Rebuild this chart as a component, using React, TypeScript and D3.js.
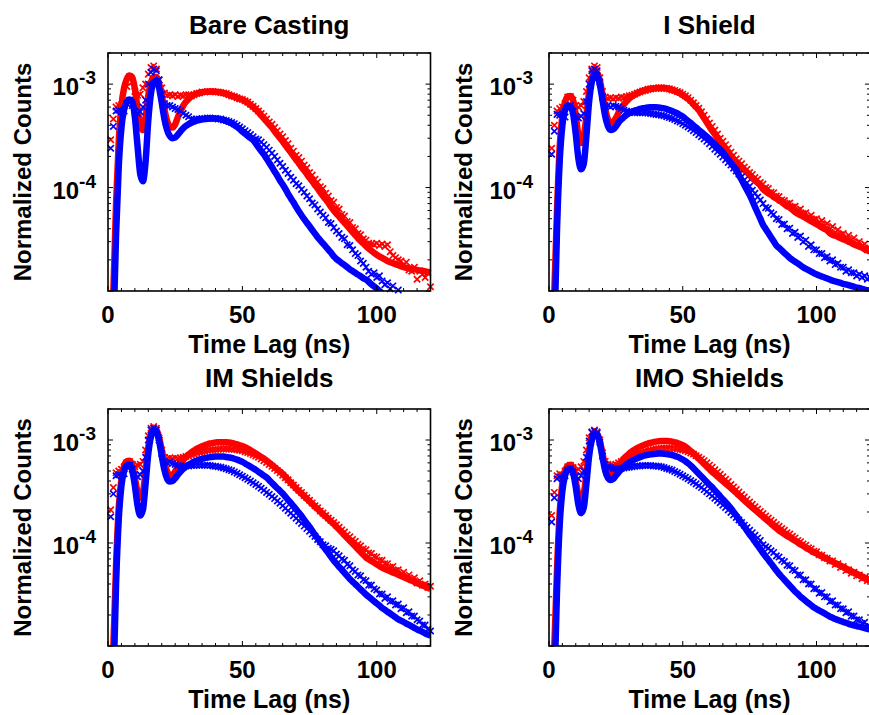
import React from "react";
import * as d3 from "d3";

// Normalized counts are stored in units of 1e-5
const UNIT = 1e-5;

const timeLine = d3.range(0, 121); // ns, simulated curves
const timeMarks = d3.range(1, 121); // ns, measured bins

const titles = ["Bare Casting", "I Shield", "IM Shields", "IMO Shields"];
const xTickLabels = [0, 50, 100];
const yTickLabels = [
  { v: 1e-3, exp: "-3" },
  { v: 1e-4, exp: "-4" },
];

// ---------------- Bare Casting ----------------
const bcRedLine = [
  0.1, 0.3, 1.0, 7, 28, 62, 92, 112, 121, 117,
  90, 58, 40, 36, 48, 78, 104, 117, 117, 102,
  78, 57, 44, 39, 38, 41, 48, 55, 62, 67.5,
  72, 76, 79, 81, 82.5, 83.5, 84.2, 84.6, 84.8, 84.8,
  84.5, 84, 83.2, 82, 80.6, 79, 77.2, 75.5, 74, 72.5,
  70.8, 68.4, 66, 63, 60, 57, 53.7, 50, 46.8, 43.6,
  40.7, 38, 35, 32.4, 30.2, 27.9, 25.7, 23.7, 21.9, 20.2,
  18.6, 17.2, 15.8, 14.6, 13.5, 12.4, 11.5, 10.6, 9.8, 9.0,
  8.3, 7.7, 7.1, 6.5, 6.0, 5.6, 5.25, 4.9, 4.57, 4.27,
  3.98, 3.7, 3.47, 3.24, 3.05, 2.88, 2.72, 2.57, 2.45, 2.34,
  2.24, 2.16, 2.09, 2.02, 1.95, 1.9, 1.86, 1.82, 1.78, 1.74,
  1.7, 1.68, 1.66, 1.64, 1.62, 1.6, 1.58, 1.57, 1.55, 1.53,
  1.51,
];
const bcBlueLine = [
  0.05, 0.1, 0.4, 3.5, 16, 38, 57, 67, 71, 68,
  48, 25, 13.5, 11.5, 18, 45, 82, 104, 108, 92,
  66, 46, 36, 31.5, 30, 30.5, 32.5, 35, 37.5, 39.5,
  41, 42.3, 43.4, 44.3, 45, 45.6, 46, 46.3, 46.5, 46.6,
  46.5, 46.2, 45.7, 45, 44, 43, 41.8, 40.3, 38.6, 36.8,
  34.8, 33.1, 31.6, 30.2, 28.8, 26.6, 24.5, 22.6, 20.9, 19.1,
  17.4, 15.8, 14.3, 13.0, 11.7, 10.7, 9.7, 8.7, 7.9, 7.2,
  6.5, 5.9, 5.4, 4.95, 4.57, 4.22, 3.89, 3.59, 3.31, 3.09,
  2.88, 2.69, 2.51, 2.34, 2.16, 2.04, 1.95, 1.86, 1.78, 1.7,
  1.62, 1.56, 1.5, 1.44, 1.39, 1.33, 1.29, 1.23, 1.16, 1.11,
  1.06, 1.0, 0.95, 0.9, 0.86, 0.82, 0.78, 0.75, 0.72, 0.69,
  0.66, 0.63, 0.61, 0.58, 0.56, 0.54, 0.52, 0.5, 0.48, 0.46,
  0.45,
];
const bcRedMarks = [
  29, 46, 60, 62, 63, 65, 95, 118, 105, 85,
  78, 80, 92, 100, 125, 145, 150, 140, 110, 92,
  82, 78, 79, 77, 79, 76, 78, 77, 79, 79,
  77, 79, 81, 82, 84, 84, 85, 85, 85, 84,
  84, 83, 82, 81, 79, 77, 76, 74, 72, 71,
  69, 67, 64, 61, 58, 55, 52, 49, 46, 43,
  41, 38, 35.5, 33, 31, 28.5, 26.5, 24, 22.5, 20.5,
  19.5, 18, 16.5, 15.5, 14, 13.2, 12, 11.3, 10.2, 9.8,
  8.8, 8.3, 7.5, 7.2, 6.4, 6.2, 5.5, 5.3, 4.7, 4.6,
  4.1, 4.0, 3.6, 3.5, 3.2, 3.1, 2.9, 2.85, 2.8, 2.9,
  2.75, 2.85, 2.7, 2.8, 2.4, 2.2, 2.1, 2.0, 1.95, 1.8,
  1.9, 1.6, 1.55, 1.7, 1.3, 1.55, 1.45, 1.35, 1.5, 1.1,
];
const bcBlueMarks = [
  24, 39, 55, 56, 54, 55, 65, 70, 62, 55,
  52, 54, 60, 70, 100, 130, 140, 135, 110, 80,
  65, 62, 62, 60, 58, 57, 55, 52, 50, 48.5,
  46, 45.5, 46, 46, 46.5, 46.5, 47, 47, 46.5, 46.5,
  46, 46, 45, 44.5, 43.5, 42.5, 41.5, 40, 38.5, 37,
  35.5, 34, 32.5, 31, 29.5, 29, 27.5, 26, 24.5, 23,
  21.5, 20, 18.5, 17.2, 16, 14.7, 13.7, 12.6, 11.8, 10.9,
  10.4, 9.6, 9.0, 8.3, 7.8, 7.1, 6.8, 6.2, 5.8, 5.4,
  5.1, 4.6, 4.5, 4.1, 3.8, 3.6, 3.3, 3.2, 2.8, 2.75,
  2.5, 2.3, 2.2, 1.95, 1.85, 1.7, 1.55, 1.45, 1.5, 1.35,
  1.4, 1.25, 1.15, 1.2, 1.05, 1.12, 0.98, 1.02, 0.9, 0.85,
  0.8, 0.78, 0.75, 0.7, 0.7, 0.65, 0.62, 0.6, 0.58, 0.55,
];

// ---------------- I Shield ----------------
const isRedLine = [
  0.1, 0.3, 1.0, 6, 25, 50, 67, 76, 77, 70,
  50, 32, 27, 31, 50, 85, 115, 127, 127, 108,
  80, 58, 46, 42, 43, 47, 53, 59, 64, 68.5,
  72.5, 76, 79, 81.5, 84, 86, 87.5, 89, 90, 91,
  91.5, 92, 92, 92, 91, 89.5, 88, 86, 84, 81.5,
  78.5, 75.5, 72, 68, 64, 60, 56.2, 51.3, 46.8, 42.7,
  38.9, 35.5, 32.7, 30.2, 27.5, 25.4, 23.4, 21.4, 20.0, 18.6,
  17.6, 16.6, 15.7, 14.8, 14.0, 13.2, 12.4, 11.7, 11.1, 10.5,
  9.66, 9.2, 8.8, 8.5, 8.1, 7.85, 7.5, 7.25, 6.9, 6.6,
  6.4, 6.1, 5.8, 5.6, 5.4, 5.25, 5.07, 4.9, 4.73, 4.57,
  4.42, 4.27, 4.12, 3.98, 3.85, 3.63, 3.5, 3.43, 3.35, 3.24,
  3.16, 3.09, 2.99, 2.92, 2.82, 2.75, 2.69, 2.63, 2.54, 2.47,
  2.4,
];
const isBlueLine = [
  0.05, 0.1, 0.4, 4, 18, 40, 56, 62, 61, 52,
  33, 19, 15, 17, 32, 68, 105, 124, 121, 99,
  70, 49, 39.5, 36, 36.5, 39, 42.5, 45.5, 48, 50.5,
  52.5, 54, 55.5, 56.5, 57.5, 58.3, 59, 59.4, 59.7, 59.8,
  59.8, 59.5, 59, 58.3, 57.4, 56.3, 55, 53.5, 52, 50.3,
  48.5, 46.2, 44.1, 42, 39.9, 38, 36.1, 34.4, 32.7, 31,
  29.5, 27.8, 26.2, 24.7, 23.2, 21.9, 20.2, 18.7, 17.3, 16,
  14.8, 13.2, 11.9, 10.6, 9.5, 8.5, 7.45, 6.5, 5.7, 5.0,
  4.37, 3.98, 3.63, 3.31, 3.02, 2.75, 2.61, 2.47, 2.33, 2.21,
  2.09, 2.0, 1.92, 1.85, 1.77, 1.7, 1.64, 1.59, 1.54, 1.49,
  1.45, 1.41, 1.38, 1.35, 1.32, 1.29, 1.26, 1.24, 1.22, 1.2,
  1.17, 1.16, 1.14, 1.12, 1.1, 1.08, 1.07, 1.05, 1.03, 1.02,
  1.0,
];
const isRedMarks = [
  24, 40, 55, 58, 60, 65, 75, 76, 70, 62,
  60, 62, 68, 85, 115, 140, 150, 145, 115, 85,
  75, 73, 74, 72, 74, 73, 75, 74, 76, 77,
  78, 80, 82, 84, 86, 87, 89, 90, 91, 91,
  92, 92, 91, 91, 90, 88, 87, 85, 83, 80,
  77, 74, 70, 66, 62, 58.5, 54, 50, 46, 42,
  39, 36, 33, 30, 28, 26, 24, 22, 20.5, 19,
  18, 17, 15.8, 15, 14, 13.4, 12.5, 12, 11.2, 10.8,
  10, 9.8, 9.0, 8.9, 8.3, 8.2, 7.6, 7.5, 7.0, 7.1,
  6.5, 6.6, 6.0, 6.2, 5.6, 5.7, 5.2, 5.4, 4.9, 5.0,
  4.6, 4.8, 4.3, 4.5, 4.0, 4.2, 3.7, 3.9, 3.5, 3.6,
  3.3, 3.45, 3.1, 3.25, 2.9, 3.0, 2.7, 2.85, 2.5, 2.6,
];
const isBlueMarks = [
  21, 35, 51, 50, 52, 48, 58, 62, 55, 48,
  47, 49, 52, 68, 100, 135, 140, 135, 105, 75,
  62, 62, 60, 62, 61, 60, 58, 56, 55, 54,
  53.5, 53, 53, 53, 53, 53, 52.5, 52, 51.5, 51,
  50.5, 50, 49.5, 48.5, 47.5, 46.5, 45.5, 44, 43, 41.5,
  40, 38.5, 37, 35.5, 34, 32.5, 31, 29.5, 28, 26.5,
  25, 23.5, 22.2, 21, 19.8, 18.6, 17.5, 16.5, 15.4, 14.5,
  13.5, 12.7, 11.8, 11.1, 10.3, 9.4, 8.8, 8.1, 7.6, 7.0,
  6.4, 6.3, 5.7, 5.5, 5.0, 4.9, 4.4, 4.45, 4.0, 4.05,
  3.6, 3.7, 3.3, 3.4, 3.0, 3.1, 2.7, 2.8, 2.5, 2.5,
  2.3, 2.3, 2.1, 2.15, 1.95, 2.0, 1.8, 1.85, 1.7, 1.7,
  1.55, 1.6, 1.5, 1.5, 1.4, 1.45, 1.35, 1.4, 1.3, 1.35,
];

// ---------------- IM Shields ----------------
const imRedLine = [
  0.1, 0.3, 1.0, 6, 22, 42, 56, 62, 63, 57,
  43, 31, 27.5, 31, 50, 85, 115, 127, 126, 106,
  80, 60, 49.5, 45.5, 46, 49.5, 54.5, 59.5, 64, 68.5,
  72.5, 76, 79, 82, 84.5, 87, 89, 91, 92.5, 93.5,
  94.5, 95, 95.3, 95.3, 95.1, 94.4, 93.5, 92.2, 90.8, 88.9,
  87.1, 85.1, 82.4, 79.6, 76.9, 74.1, 71.3, 68.4, 65.8, 63.1,
  60, 57.1, 54.3, 51.6, 49.2, 46.8, 43.9, 41.1, 38.5, 36.1,
  33.9, 32, 30.2, 28.5, 26.9, 25.4, 24, 22.6, 21.4, 20.2,
  19.1, 18.1, 17.1, 16.1, 15.3, 14.4, 13.5, 12.7, 11.9, 11.2,
  10.5, 9.9, 9.3, 8.7, 8.2, 7.7, 7.24, 6.97, 6.7, 6.46,
  6.21, 5.97, 5.75, 5.6, 5.46, 5.31, 5.18, 5.04, 4.91, 4.79,
  4.67, 4.54, 4.43, 4.31, 4.19, 4.07, 3.98, 3.87, 3.78, 3.67,
  3.58,
];
const imBlueLine = [
  0.05, 0.1, 0.4, 4, 17, 36, 50, 56.5, 57.5, 51,
  36, 23, 18.5, 21, 38, 74, 108, 125, 121, 98,
  70, 51, 42, 39.5, 40, 42.5, 46, 49.5, 52.5, 55,
  57.5, 59.5, 61.5, 63, 64.5, 65.7, 66.7, 67.5, 68.2, 68.7,
  69, 69.2, 69.2, 69, 68.5, 67.8, 67, 65.8, 64.5, 63,
  61.2, 59.2, 57.1, 55.1, 53.2, 51.3, 49.1, 47.1, 45.1, 43.2,
  40.7, 38.3, 36.1, 34, 32.1, 30.2, 28.2, 26.2, 24.5, 22.8,
  21.2, 19.7, 18.3, 16.8, 15.5, 14.3, 13.1, 12.0, 11.1, 10.2,
  9.4, 8.65, 7.96, 7.33, 6.75, 6.3, 5.87, 5.5, 5.13, 4.79,
  4.47, 4.22, 3.98, 3.76, 3.55, 3.35, 3.16, 3.01, 2.86, 2.72,
  2.59, 2.47, 2.34, 2.25, 2.15, 2.07, 1.98, 1.9, 1.82, 1.76,
  1.71, 1.65, 1.6, 1.55, 1.5, 1.45, 1.41, 1.37, 1.33, 1.29,
  1.26,
];
const imRedMarks = [
  21, 34.5, 48, 50, 52, 55, 60, 62, 58, 55,
  57, 58, 62, 80, 110, 130, 135, 130, 105, 80,
  68, 66, 67, 66, 67, 66, 67, 68, 69, 70,
  71.5, 73, 74.5, 76, 77, 78, 79, 80, 80.5, 81,
  81.5, 82, 82, 82, 82, 81.5, 81, 80.5, 79.5, 78.5,
  77, 75.5, 74, 72, 70, 68, 65.5, 63, 60.5, 58,
  55.5, 53, 50.5, 48, 45.5, 43, 41, 38.5, 36.5, 34.5,
  32.5, 31, 29, 27.5, 26, 24.5, 23, 22, 20.5, 19.5,
  18.5, 17.5, 16.6, 15.8, 15, 14.2, 13.4, 12.8, 12, 11.5,
  10.8, 10.4, 9.7, 9.4, 8.8, 8.6, 8.0, 7.9, 7.4, 7.3,
  6.8, 6.8, 6.3, 6.3, 5.8, 5.9, 5.4, 5.5, 5.0, 5.2,
  4.7, 4.9, 4.4, 4.6, 4.1, 4.3, 3.9, 4.0, 3.7, 3.8,
];
const imBlueMarks = [
  18, 30, 45, 46, 45, 47, 55, 57, 52, 46,
  44, 46, 50, 68, 100, 125, 130, 125, 100, 74,
  62, 60, 61, 59, 58, 56.5, 56, 56, 56, 56,
  56.5, 56.5, 57, 57, 57, 57, 57, 56.5, 56, 55.5,
  55, 54.5, 53.5, 52.5, 51.5, 50.5, 49, 47.5, 46, 44.5,
  43, 41.5, 40, 38.5, 37, 35.5, 34, 32.5, 31, 29.7,
  28.3, 27, 25.6, 24.3, 23, 21.8, 20.6, 19.5, 18.4, 17.4,
  16.4, 15.5, 14.6, 13.8, 13, 12.2, 11.6, 10.8, 10.3, 9.6,
  9.4, 8.9, 8.7, 8.4, 7.8, 7.5, 7.0, 6.8, 6.2, 6.0,
  5.5, 5.3, 4.9, 4.8, 4.4, 4.3, 3.9, 3.9, 3.6, 3.5,
  3.2, 3.2, 2.9, 3.0, 2.7, 2.75, 2.5, 2.55, 2.3, 2.35,
  2.1, 2.15, 1.95, 1.95, 1.8, 1.75, 1.6, 1.6, 1.45, 1.4,
];

// ---------------- IMO Shields ----------------
const imoRedLine = [
  0.1, 0.3, 1.0, 5.5, 20, 38, 50, 56, 57.5, 53,
  40, 29.5, 26.5, 30, 48, 80, 106, 117, 115, 98,
  74, 56, 48, 46, 47.5, 51.5, 56.5, 61.5, 66, 70,
  74, 77.5, 80.5, 83.5, 86, 88.5, 90.5, 92.5, 94, 95.5,
  96.5, 97.3, 97.8, 98, 97.8, 97.3, 96.5, 95, 93.5, 91.5,
  89, 86, 82, 78, 74, 70, 66, 62.2, 58.6, 55.2,
  52, 49, 46.6, 44.2, 42, 39.9, 37.8, 36, 34.2, 32.4,
  30.6, 29, 27.4, 25.9, 24.5, 23.3, 22.1, 21, 20, 18.9,
  18, 17.1, 16.2, 15.4, 14.6, 13.9, 13.2, 12.7, 12.2, 11.7,
  11.3, 10.9, 10.5, 10.1, 9.7, 9.4, 9.0, 8.7, 8.4, 8.1,
  7.9, 7.66, 7.4, 7.2, 7.0, 6.78, 6.6, 6.38, 6.2, 6.03,
  5.85, 5.66, 5.5, 5.33, 5.18, 5.04, 4.89, 4.74, 4.6, 4.48,
  4.37,
];
const imoBlueLine = [
  0.05, 0.1, 0.4, 3.5, 15, 32, 45, 51.5, 53, 48,
  35, 23.5, 19.5, 22, 38, 70, 100, 116, 113, 93,
  68, 50.5, 43, 41, 42, 45, 48.5, 52, 55, 58,
  60.5, 62.8, 64.8, 66.6, 68.2, 69.6, 70.8, 71.8, 72.6, 73.2,
  73.6, 73.8, 73.8, 73.6, 73.1, 72.4, 71.5, 70.2, 68.6, 66.8,
  64.6, 62.2, 59.5, 56.5, 53.2, 50, 47, 44.2, 41.5, 39,
  36.8, 34.7, 32.4, 30.4, 28.4, 26.6, 24.9, 23.3, 21.8, 20,
  18.5, 17, 15.6, 14.4, 13.2, 12.1, 11.2, 10.3, 9.5, 8.7,
  8.0, 7.4, 6.86, 6.34, 5.86, 5.42, 5.01, 4.69, 4.4, 4.11,
  3.85, 3.61, 3.38, 3.21, 3.02, 2.88, 2.74, 2.61, 2.49, 2.37,
  2.29, 2.21, 2.14, 2.07, 2.0, 1.93, 1.88, 1.83, 1.79, 1.75,
  1.71, 1.68, 1.64, 1.61, 1.59, 1.56, 1.54, 1.52, 1.49, 1.47,
  1.45,
];
const imoRedMarks = [
  18.5, 31, 45, 47, 46, 50, 55, 57, 54, 50,
  52, 55, 62, 80, 105, 120, 125, 120, 100, 75,
  62, 58, 57, 57, 58, 60, 62, 64, 66, 68,
  70, 72, 73.5, 75, 76.5, 78, 79, 80, 81, 82,
  82.5, 83, 83.5, 83.5, 83.5, 83, 82.5, 82, 81, 80,
  78.5, 77, 75, 73, 70.5, 68, 65.5, 63, 60, 57,
  54.5, 51.5, 49, 46.5, 44, 41.5, 39.5, 37, 35, 33,
  31.2, 29.5, 28, 26.5, 25, 23.8, 22.5, 21.4, 20.2, 19.3,
  18.3, 17.5, 16.6, 15.9, 15.1, 14.5, 13.8, 13.3, 12.6, 12.2,
  11.6, 11.2, 10.6, 10.3, 9.8, 9.5, 9.0, 8.8, 8.3, 8.2,
  7.7, 7.6, 7.2, 7.1, 6.7, 6.7, 6.2, 6.3, 5.8, 5.9,
  5.4, 5.5, 5.1, 5.2, 4.8, 4.9, 4.5, 4.6, 4.3, 4.4,
];
const imoBlueMarks = [
  16, 27.5, 42, 44, 43, 45, 51, 53, 49, 44,
  42, 45, 50, 68, 98, 118, 122, 117, 95, 70,
  58, 55, 54, 53, 52.5, 53, 53, 53.5, 54, 54.5,
  55, 55.5, 56, 56, 56.5, 56.5, 56.5, 56.5, 56, 56,
  55.5, 55, 54, 53, 52, 51, 49.5, 48, 46.5, 45,
  43.5, 42, 40.5, 39, 37.5, 36, 34.5, 33, 31.5, 30,
  28.6, 27.2, 25.9, 24.6, 23.3, 22.1, 20.9, 19.8, 18.7, 17.7,
  16.7, 15.8, 14.9, 14.1, 13.3, 12.6, 11.9, 11.2, 10.6, 9.6,
  9.2, 8.9, 8.4, 8.1, 7.5, 7.3, 6.8, 6.6, 6.1, 6.0,
  5.5, 5.4, 4.9, 4.9, 4.4, 4.4, 4.0, 4.0, 3.6, 3.6,
  3.25, 3.3, 3.0, 3.0, 2.7, 2.75, 2.5, 2.5, 2.3, 2.3,
  2.1, 2.15, 1.95, 1.95, 1.8, 1.8, 1.65, 1.7, 1.55, 1.55,
];

// ---------------- layout / style ----------------
const W = 869;
const H = 715;
const FONT = "'Liberation Sans', Arial, Helvetica, sans-serif";
const RED = "#ff0000";
const BLUE = "#0000ff";
const Y_DOMAIN: [number, number] = [1e-5, 2e-3];
const X_DOMAIN: [number, number] = [0, 120];

const boxes = [
  { x0: 108, x1: 430.5, y0: 53, y1: 291, titleY: 34, tickLabelX: 96 },
  { x0: 549, x1: 870, y0: 53, y1: 291, titleY: 34, tickLabelX: 533 },
  { x0: 108, x1: 430.5, y0: 409, y1: 646, titleY: 387, tickLabelX: 96 },
  { x0: 549, x1: 870, y0: 409, y1: 646, titleY: 387, tickLabelX: 533 },
];

const seriesByPanel = [
  { redLine: bcRedLine, blueLine: bcBlueLine, redMarks: bcRedMarks, blueMarks: bcBlueMarks },
  { redLine: isRedLine, blueLine: isBlueLine, redMarks: isRedMarks, blueMarks: isBlueMarks },
  { redLine: imRedLine, blueLine: imBlueLine, redMarks: imRedMarks, blueMarks: imBlueMarks },
  { redLine: imoRedLine, blueLine: imoBlueLine, redMarks: imoRedMarks, blueMarks: imoBlueMarks },
];

const xMarkType = {
  draw(ctx: any, size: number) {
    const r = Math.sqrt(size) / 2;
    ctx.moveTo(-r, -r);
    ctx.lineTo(r, r);
    ctx.moveTo(-r, r);
    ctx.lineTo(r, -r);
  },
};
const markPath = d3.symbol().type(xMarkType as any).size(40)() as string;

function Panel({ idx }: { idx: number }) {
  const box = boxes[idx];
  const s = seriesByPanel[idx];
  const x = d3.scaleLinear().domain(X_DOMAIN).range([box.x0, box.x1]);
  const y = d3.scaleLog().domain(Y_DOMAIN).range([box.y1, box.y0]);

  const lineGen = d3
    .line<number>()
    .x((_, i) => x(timeLine[i]))
    .y((v) => y(v * UNIT))
    .curve(d3.curveMonotoneX);

  const clipId = `clip-${idx}`;

  const marks = (vals: number[], color: string) =>
    vals
      .map((v, i) => ({ t: timeMarks[i], v: v * UNIT }))
      .filter((d) => d.v >= Y_DOMAIN[0] && d.v <= Y_DOMAIN[1])
      .map((d, i) => (
        <path
          key={i}
          d={markPath}
          transform={`translate(${x(d.t)},${y(d.v)})`}
          fill="none"
          stroke={color}
          strokeWidth={1.7}
        />
      ));

  const xTicks = d3.range(0, 121, 5);
  const yTicks = y.ticks();
  const isMajorY = (v: number) => Math.abs(Math.log10(v) - Math.round(Math.log10(v))) < 1e-9;

  const cx = (box.x0 + box.x1) / 2;
  const cy = (box.y0 + box.y1) / 2;

  return (
    <g>
      <defs>
        <clipPath id={clipId}>
          <rect x={box.x0} y={box.y0} width={box.x1 - box.x0} height={box.y1 - box.y0} />
        </clipPath>
      </defs>
      <g clipPath={`url(#${clipId})`}>
        <path d={lineGen(s.redLine) as string} fill="none" stroke={RED} strokeWidth={6.5} strokeLinejoin="round" />
      </g>
      <g>{marks(s.redMarks, RED)}</g>
      <g clipPath={`url(#${clipId})`}>
        <path d={lineGen(s.blueLine) as string} fill="none" stroke={BLUE} strokeWidth={6.5} strokeLinejoin="round" />
      </g>
      <g>{marks(s.blueMarks, BLUE)}</g>

      {/* axes box */}
      <rect
        x={box.x0}
        y={box.y0}
        width={box.x1 - box.x0}
        height={box.y1 - box.y0}
        fill="none"
        stroke="#000"
        strokeWidth={1.6}
      />
      {/* x ticks (bottom & top, inward) */}
      {xTicks.map((t) => {
        const len = t % 50 === 0 ? 5 : 3;
        return (
          <g key={`xt${t}`} stroke="#000" strokeWidth={1}>
            <line x1={x(t)} x2={x(t)} y1={box.y1} y2={box.y1 - len} />
            <line x1={x(t)} x2={x(t)} y1={box.y0} y2={box.y0 + len} />
          </g>
        );
      })}
      {/* y ticks (left & right, inward) */}
      {yTicks.map((v, i) => {
        const len = isMajorY(v) ? 5 : 3;
        return (
          <g key={`yt${i}`} stroke="#000" strokeWidth={1}>
            <line x1={box.x0} x2={box.x0 + len} y1={y(v)} y2={y(v)} />
            <line x1={box.x1} x2={box.x1 - len} y1={y(v)} y2={y(v)} />
          </g>
        );
      })}

      {/* tick labels */}
      {xTickLabels.map((t) => (
        <text
          key={`xl${t}`}
          x={x(t)}
          y={box.y1 + 32}
          textAnchor="middle"
          fontFamily={FONT}
          fontWeight="bold"
          fontSize={24}
          fill="#000"
        >
          {t}
        </text>
      ))}
      {yTickLabels.map((d) => (
        <text
          key={`yl${d.exp}`}
          x={box.tickLabelX}
          y={y(d.v) + 11}
          textAnchor="end"
          fontFamily={FONT}
          fontWeight="bold"
          fontSize={24}
          fill="#000"
        >
          <tspan>10</tspan>
          <tspan fontSize={19} dy={-11}>
            {d.exp}
          </tspan>
        </text>
      ))}

      {/* labels */}
      <text
        x={cx}
        y={box.titleY}
        textAnchor="middle"
        fontFamily={FONT}
        fontWeight="bold"
        fontSize={26}
        fill="#000"
      >
        {titles[idx]}
      </text>
      <text
        x={cx}
        y={box.y1 + 62}
        textAnchor="middle"
        fontFamily={FONT}
        fontWeight="bold"
        fontSize={25}
        fill="#000"
      >
        Time Lag (ns)
      </text>
      <text
        transform={`translate(${box.x0 - 77},${cy}) rotate(-90)`}
        textAnchor="middle"
        fontFamily={FONT}
        fontWeight="bold"
        fontSize={24}
        fill="#000"
      >
        Normalized Counts
      </text>
    </g>
  );
}

export default function App() {
  return (
    <svg
      width={W}
      height={H}
      viewBox={`0 0 ${W} ${H}`}
      style={{ position: "absolute", left: 0, top: 0, background: "#fff" }}
    >
      <rect x={0} y={0} width={W} height={H} fill="#fff" />
      {[0, 1, 2, 3].map((i) => (
        <Panel key={i} idx={i} />
      ))}
    </svg>
  );
}
